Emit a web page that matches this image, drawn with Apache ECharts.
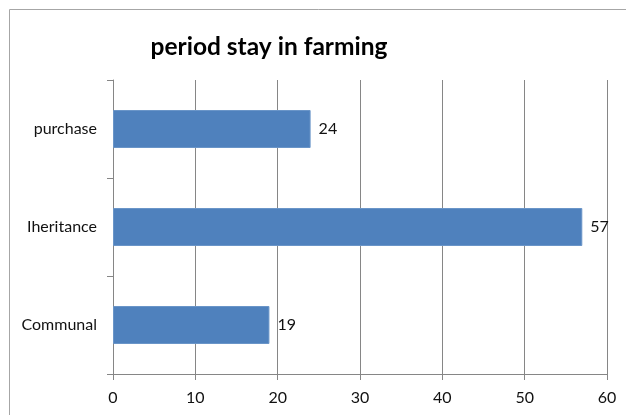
<!DOCTYPE html>
<html>
<head>
<meta charset="utf-8">
<script src="https://cdn.jsdelivr.net/npm/echarts@6/dist/echarts.min.js"></script>
<style>
  html, body { margin: 0; padding: 0; background: #fff; }
  #chart { width: 626px; height: 415px; }
</style>
</head>
<body>
<div id="chart"></div>
<script>
// Bar categories, bottom to top
var categories = ['Communal', 'Iheritance', 'purchase'];
// Years values per category
var values = [19, 57, 24];
// Value axis ticks
var xTicks = [0, 10, 20, 30, 40, 50, 60];

var chart = echarts.init(document.getElementById('chart'), null, { renderer: 'canvas' });

var axisGray = '#868686';
var font = 'Lato, sans-serif';

chart.setOption({
  backgroundColor: '#ffffff',
  animation: false,
  title: {
    text: 'period stay in farming',
    left: 264,
    textAlign: 'center',
    top: 30,
    textStyle: { fontFamily: font, fontWeight: 'bold', fontSize: 24.5, color: '#000' }
  },
  graphic: [{
    type: 'rect',
    shape: { x: 9.5, y: 9.5, width: 700, height: 500 },
    style: { fill: 'none', stroke: '#a6a6a6', lineWidth: 1 },
    silent: true
  }],
  grid: { left: 113, right: 19, top: 80, bottom: 41 },
  xAxis: {
    type: 'value',
    min: xTicks[0],
    max: xTicks[xTicks.length - 1],
    interval: 10,
    axisLine: { show: true, lineStyle: { color: axisGray } },
    axisTick: { show: true, length: 6, lineStyle: { color: axisGray } },
    axisLabel: { margin: 16, fontFamily: font, fontSize: 16, color: '#111' },
    splitLine: { show: true, lineStyle: { color: axisGray } }
  },
  yAxis: {
    type: 'category',
    data: categories,
    axisLine: { show: true, lineStyle: { color: axisGray } },
    axisTick: { show: true, length: 6, lineStyle: { color: axisGray } },
    axisLabel: { margin: 16, fontFamily: font, fontSize: 16, color: '#111' },
    splitLine: { show: false }
  },
  series: [{
    type: 'bar',
    data: values,
    barWidth: 38,
    itemStyle: { color: '#4f81bd', borderColor: '#6a95c8', borderWidth: 1 },
    label: {
      show: true,
      position: 'right',
      distance: 8,
      fontFamily: font,
      fontSize: 16,
      color: '#111'
    }
  }]
});
</script>
</body>
</html>
